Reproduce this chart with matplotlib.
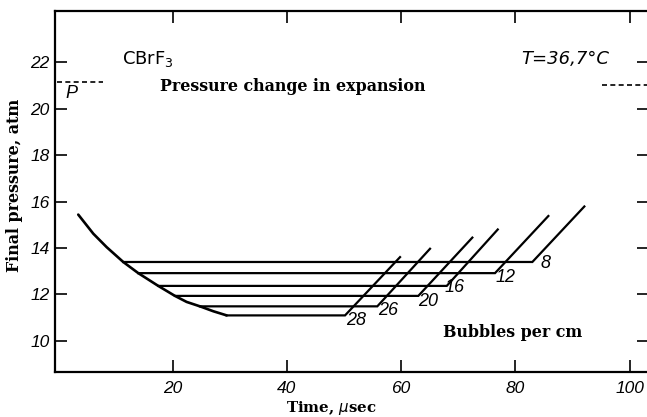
import matplotlib
matplotlib.use("Agg")
from matplotlib import pyplot as plt

# bubble density curves (bubbles per cm)
bubbles = ['8', '12', '16', '20', '26', '28']
level = [13.40, 12.92, 12.37, 11.94, 11.49, 11.10]
start_x = [11.35, 13.98, 17.48, 20.40, 24.78, 29.46]
corner_x = [82.98, 76.44, 67.99, 63.01, 55.83, 50.18]
top_x = [92.08, 85.78, 76.92, 72.47, 65.06, 59.81]
top_y = [15.79, 15.38, 14.80, 14.45, 13.97, 13.61]
lab_x = [85.2, 78.2, 69.4, 64.8, 57.8, 52.2]
lab_y = [13.33, 12.75, 12.32, 11.68, 11.29, 10.89]

# envelope curve
env_x = [3.47, 6.1, 8.44, 11.35, 13.98, 17.48, 20.40, 22.45, 24.78, 27.1, 29.46]
env_y = [15.44, 14.62, 14.04, 13.40, 12.92, 12.37, 11.94, 11.68, 11.49, 11.28, 11.10]

# vapour pressure P (dashed marks)
p_left_x = [-0.3, 7.8]
p_right_x = [95.2, 103.1]
p_left_y = 21.17
p_right_y = 21.03

xticks = [20, 40, 60, 80, 100]
yticks = [10, 12, 14, 16, 18, 20, 22]

narrow = ['Liberation Sans', 'DejaVu Sans']
serif = ['DejaVu Serif']

fig = plt.figure(figsize=(6.47, 4.17), dpi=100)
ax = fig.add_axes([55/647, 44.7/417, 594/647, 361.6/417])

ax.plot(env_x, env_y, color='black', lw=1.9, solid_capstyle='round')
for i in range(len(bubbles)):
    ax.plot([start_x[i], corner_x[i], top_x[i]],
            [level[i], level[i], top_y[i]],
            color='black', lw=1.6, solid_joinstyle='miter')
    ax.text(lab_x[i], lab_y[i], bubbles[i], family=narrow, style='italic',
            fontsize=13, ha='center', va='center')

ax.plot(p_left_x, [p_left_y, p_left_y], color='black', lw=1.2, ls=(0, (3, 2)))
ax.plot(p_right_x, [p_right_y, p_right_y], color='black', lw=1.2, ls=(0, (3, 2)))
ax.text(2.3, 20.65, 'P', family=narrow, style='italic', fontsize=13,
        ha='center', va='center')

ax.text(15.7, 22.16, 'CBrF$_3$', family=['DejaVu Sans'], fontsize=13,
        ha='center', va='center')
ax.text(88.7, 22.16, 'T=36,7°C', family=['DejaVu Sans'], style='italic', fontsize=13,
        ha='center', va='center')
ax.text(41.0, 20.95, 'Pressure change in expansion', family=serif,
        fontweight='bold', fontsize=11.4, ha='center', va='center')
ax.text(79.5, 10.35, 'Bubbles per cm', family=serif, fontweight='bold',
        fontsize=11.4, ha='center', va='center')

ax.set_xlim(-0.6, 103.4)
ax.set_ylim(8.65, 24.22)
ax.set_xticks(xticks)
ax.set_yticks(yticks)
ax.tick_params(direction='in', length=8.5, width=1.2, top=True, right=True, pad=4)
ax.tick_params(axis='x', pad=6)
for lab in ax.get_xticklabels() + ax.get_yticklabels():
    lab.set_family(narrow)
    lab.set_style('italic')
    lab.set_fontsize(12.5)
for s in ['left', 'bottom', 'top']:
    ax.spines[s].set_linewidth(1.6)
ax.spines['right'].set_visible(False)

fig.text(15/647, 1 - 185/417, 'Final pressure, atm', family=serif, fontweight='bold',
         fontsize=11.4, rotation=90, ha='center', va='center')
fig.text(331/647, 1 - 408/417, 'Time, $\\mu$sec', family=serif, fontweight='bold',
         fontsize=10.8, ha='center', va='center')

fig.savefig('out.png', dpi=100)
